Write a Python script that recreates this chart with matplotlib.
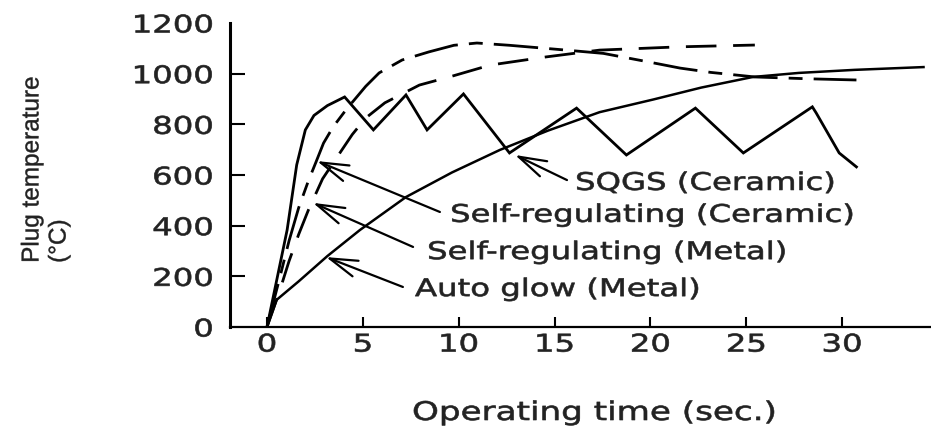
import matplotlib
matplotlib.use("Agg")
import matplotlib.pyplot as plt
from matplotlib.patheffects import AbstractPathEffect
from matplotlib.transforms import Affine2D

# operating time (s) and plug temperature (degC) along each curve
sqgs_t = [0, 1.05, 1.55, 2.0, 2.45, 3.15, 4.05, 5.55, 7.25, 8.35, 10.25, 12.65,
          16.15, 18.75, 22.35, 24.85, 28.45, 28.65, 29.25, 29.85, 30.75]
sqgs_T = [0, 383, 640, 778, 835, 874, 908, 778, 916, 778, 920, 687,
          864, 679, 864, 687, 869, 845, 766, 687, 632]

src_t = [0, 0.65, 1.15, 1.65, 2.15, 2.55, 2.95, 3.45, 4.15, 4.55, 5.15, 5.85, 7.05,
         8.45, 9.75, 10.95, 12.65, 15.45, 17.55, 19.65, 21.55, 23.15, 25.45, 28.15, 30.75]
src_T = [0, 190, 340, 470, 575, 650, 726, 790, 860, 896, 950, 1003, 1054,
         1086, 1112, 1121, 1112, 1094, 1080, 1050, 1022, 1005, 987, 980, 975]

srm_t = [0, 0.65, 1.15, 1.65, 2.15, 2.9, 3.65, 4.45, 5.15, 6.15, 7.95, 9.65,
         11.65, 14.55, 17.35, 21.55, 25.45]
srm_T = [0, 140, 260, 365, 460, 585, 670, 760, 825, 885, 955, 990,
         1034, 1066, 1093, 1106, 1113]

auto_t = [0, 0.5, 1.65, 3.15, 4.85, 7.25, 9.65, 12.15, 14.65, 17.35, 20.15,
          22.65, 25.35, 27.75, 30.65, 34.25]
auto_T = [0, 107, 180, 280, 383, 513, 610, 699, 775, 848, 898,
          945, 987, 1003, 1015, 1026]

# curve labels and their pointer arrows
names = ["SQGS (Ceramic)", "Self-regulating (Ceramic)",
         "Self-regulating (Metal)", "Auto glow (Metal)"]
name_t = [16.07, 9.55, 8.35, 7.72]
name_T = [541, 415, 268, 122]
tail_t = [15.65, 9.02, 7.62, 7.09]
tail_T = [580, 454, 316, 158]
head_t = [12.94, 2.61, 2.40, 3.08]
head_T = [679, 655, 490, 276]

x_ticks = [0, 5, 10, 15, 20, 25, 30]
y_ticks = [0, 200, 400, 600, 800, 1000, 1200]

INK = "#222222"
WIDE = 1.33


class Widen(AbstractPathEffect):
    """Draw glyph outlines stretched sideways about the text anchor,
    with a thin stroke to give them a heavier look."""

    def __init__(self, sx=WIDE, anchor="left", stroke=0.45):
        super().__init__()
        self.sx = sx
        self.anchor = anchor
        self.stroke = stroke

    def draw_path(self, renderer, gc, tpath, affine, rgbFace=None):
        ext = tpath.get_extents()
        x0 = {"left": 0.0, "center": 0.5 * (ext.x0 + ext.x1), "right": ext.x1}[self.anchor]
        stretch = Affine2D().translate(-x0, 0).scale(self.sx, 1.0).translate(x0, 0)
        gc0 = renderer.new_gc()
        gc0.copy_properties(gc)
        gc0.set_linewidth(self.stroke)
        gc0.set_joinstyle("round")
        renderer.draw_path(gc0, tpath, stretch + affine, rgbFace)
        gc0.restore()


plt.rcParams["font.size"] = 17.5

fig = plt.figure(figsize=(9.31, 4.33), dpi=100)
ax = fig.add_axes([230 / 931, 106 / 433, 701 / 931, 304 / 433])
ax.set_xlim(-1.93, 34.64)
ax.set_ylim(0, 1200)

ax.plot(sqgs_t, sqgs_T, color="k", lw=2.0, solid_joinstyle="miter")
ax.plot(src_t, src_T, color="k", lw=2.0, dashes=(16, 4, 5, 4))
ax.plot(srm_t, srm_T, color="k", lw=2.0, dashes=(11, 6))
ax.plot(auto_t, auto_T, color="k", lw=1.8)

for name, t, T in zip(names, name_t, name_T):
    ax.text(t, T, name, ha="left", va="baseline", color=INK,
            path_effects=[Widen()])

for t0, T0, t1, T1 in zip(tail_t, tail_T, head_t, head_T):
    ax.annotate("", xy=(t1, T1), xytext=(t0, T0),
                arrowprops=dict(arrowstyle="->,head_length=1.0,head_width=0.3",
                                lw=1.6, color="k", mutation_scale=20,
                                shrinkA=0, shrinkB=0))

# axes: only left and bottom lines, ticks pointing inward
for side in ["top", "right"]:
    ax.spines[side].set_visible(False)
ax.spines["left"].set_linewidth(2.2)
ax.spines["bottom"].set_linewidth(1.6)

ax.set_xticks(x_ticks)
ax.set_yticks(y_ticks)
ax.tick_params(axis="y", direction="in", length=11, width=1.5, pad=12,
               labelcolor=INK)
ax.tick_params(axis="x", direction="in", length=7, width=1.5, pad=4,
               labelcolor=INK)
yt = ax.yaxis.get_major_ticks()
yt[0].tick1line.set_visible(False)
yt[-1].tick1line.set_visible(False)
for lab in ax.get_yticklabels():
    lab.set_path_effects([Widen(anchor="right")])
for lab in ax.get_xticklabels():
    lab.set_path_effects([Widen(anchor="center")])

fig.text(412 / 931, 1 - 420 / 433, "Operating time (sec.)", ha="left",
         va="baseline", size=18.5, color=INK, path_effects=[Widen()])
fig.text(46 / 931, 1 - 170 / 433, "Plug temperature\n(°C)", rotation=90,
         ha="center", va="center", multialignment="left",
         family="Liberation Sans", size=17.5, linespacing=1.3, color=INK,
         path_effects=[Widen(sx=1.0, stroke=0.3)])

fig.savefig("out.png", dpi=100)
